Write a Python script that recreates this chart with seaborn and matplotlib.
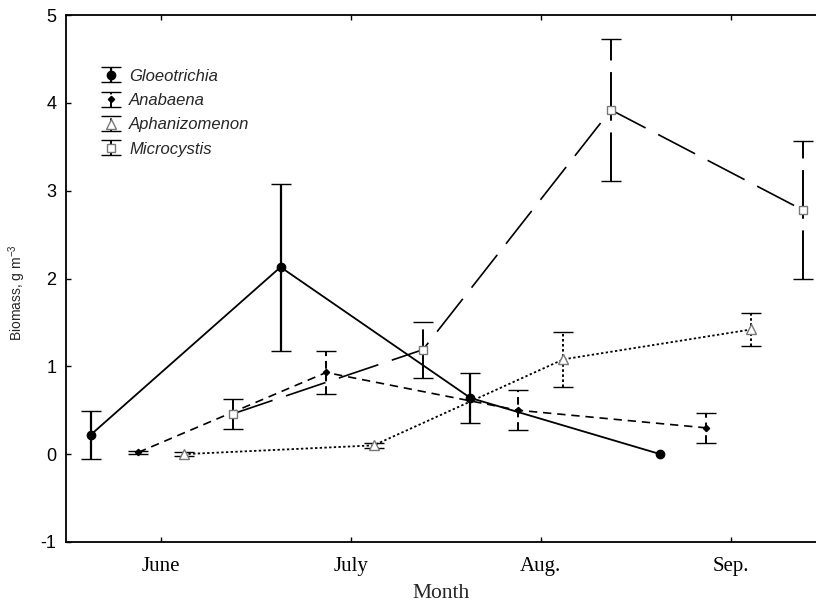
import numpy as np
import matplotlib
matplotlib.use("Agg")
import matplotlib.pyplot as plt
from matplotlib.legend_handler import HandlerErrorbar
import seaborn as sns

# ---- data ----
months = ["June", "July", "Aug.", "Sep."]
month_pos = [1, 2, 3, 4]

glo_x = [0.63, 1.63, 2.63, 3.63]
glo_y = [0.22, 2.13, 0.64, 0.0]
glo_err = [0.27, 0.95, 0.28, np.nan]

ana_x = [0.88, 1.87, 2.88, 3.87]
ana_y = [0.02, 0.93, 0.50, 0.30]
ana_err = [0.02, 0.24, 0.23, 0.17]

aph_x = [1.12, 2.12, 3.12, 4.11]
aph_y = [0.0, 0.10, 1.08, 1.42]
aph_err = [0.02, 0.03, 0.31, 0.19]

mic_x = [1.38, 2.38, 3.37, 4.38]
mic_y = [0.46, 1.19, 3.92, 2.78]
mic_err = [0.17, 0.32, 0.81, 0.79]

names = ["Gloeotrichia", "Anabaena", "Aphanizomenon", "Microcystis"]

sns.set_theme(style="ticks")
plt.rcParams["font.family"] = ["Liberation Sans", "DejaVu Sans"]
plt.rcParams["mathtext.fontset"] = "custom"
plt.rcParams["mathtext.rm"] = "Liberation Sans"
plt.rcParams["mathtext.it"] = "Liberation Sans:italic"
plt.rcParams["axes.unicode_minus"] = False

fig = plt.figure(figsize=(8.16, 6.03), dpi=100)
ax = fig.add_axes([66 / 816, 1 - 542 / 603, 750 / 816, 527 / 603])

styles = [
    dict(ls="-", els="-", marker="o", mfc="black", mec="black", ms=6.0, lw=1.3, elw=1.6),
    dict(ls=(0, (5, 3.5)), els=(0, (4, 2.5)), marker="D", mfc="black", mec="black", ms=3.2, lw=1.2, elw=1.4),
    dict(ls=(0, (1.3, 1.3)), els=(0, (1.3, 1.3)), marker="^", mfc="white", mec="#777777", ms=6.5, lw=1.3, elw=1.4),
    dict(ls=(0, (25, 8.5)), els=(0, (25, 6)), marker="s", mfc="white", mec="#777777", ms=6.0, lw=1.2, elw=1.4),
]
xs = [glo_x, ana_x, aph_x, mic_x]
ys = [glo_y, ana_y, aph_y, mic_y]
es = [glo_err, ana_err, aph_err, mic_err]

handles = []
for name, x, y, e, st in zip(names, xs, ys, es, styles):
    sns.lineplot(x=x, y=y, ax=ax, color="black", linestyle=st["ls"], lw=st["lw"],
                 errorbar=None, legend=False, sort=False, zorder=2)
    cont = ax.errorbar(x, y, yerr=e, fmt=st["marker"], linestyle="none",
                       mfc=st["mfc"], mec=st["mec"], ms=st["ms"], mew=1.0,
                       ecolor="black", elinewidth=st["elw"], capsize=7,
                       capthick=st["elw"], label=name, zorder=3)
    cont[2][0].set_linestyle(st["els"])
    handles.append(cont)

ax.set_xlim(0.5, 4.45)
ax.set_ylim(-1, 5)
ax.set_xticks(month_pos)
ax.set_xticklabels(months, fontfamily="Liberation Serif", fontsize=15)
ax.set_yticks([-1, 0, 1, 2, 3, 4, 5])
ax.tick_params(axis="both", direction="in", length=3.5, width=1.0, colors="black",
               top=True, right=False)
ax.tick_params(axis="y", labelsize=13, pad=7)
ax.tick_params(axis="x", pad=10.5)

for side in ["left", "bottom", "top"]:
    ax.spines[side].set_linewidth(1.3)
    ax.spines[side].set_color("black")
ax.spines["right"].set_visible(False)

ax.set_xlabel("Month", fontfamily="Liberation Serif", fontsize=15.5, labelpad=6)
ax.set_ylabel("Biomass, g m$^{-3}$", fontsize=10)
ax.yaxis.set_label_coords(-0.051, 0.473)

ax.legend(handles, names, loc="upper left", bbox_to_anchor=(0.0485, 0.898),
          frameon=False, prop=dict(family="Liberation Sans", style="italic", size=12),
          handlelength=1.0, handletextpad=0.6, labelspacing=0.56, borderpad=0,
          borderaxespad=0, handler_map={type(handles[0]): HandlerErrorbar(xerr_size=0.45)})

fig.savefig("out.png", dpi=100)
